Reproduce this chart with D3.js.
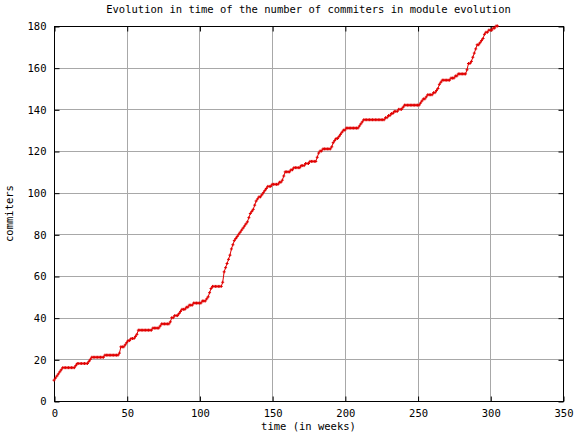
<!DOCTYPE html>
<html>
<head>
<meta charset="utf-8">
<script src="https://cdn.jsdelivr.net/npm/d3@7"></script>
<style>
	body { margin: 0; background: #fff; }
	text { font-family: 'DejaVu Sans Mono', monospace; font-size: 10.5px; fill: #000; }
</style>
</head>
<body>
<script>
// commiters per week (weeks 0..305)
const commiters = [
	10, 11, 12, 13, 14, 15, 16, 16, 16, 16,
	16, 16, 16, 16, 16, 17, 18, 18, 18, 18,
	18, 18, 18, 18, 19, 20, 21, 21, 21, 21,
	21, 21, 21, 21, 21, 22, 22, 22, 22, 22,
	22, 22, 22, 22, 22, 23, 26, 26, 26, 27,
	28, 29, 29, 30, 30, 30, 31, 32, 34, 34,
	34, 34, 34, 34, 34, 34, 34, 34, 35, 35,
	35, 35, 35, 36, 37, 37, 37, 37, 37, 37,
	38, 40, 40, 41, 41, 41, 42, 43, 44, 44,
	44, 45, 45, 46, 46, 46, 47, 47, 47, 47,
	47, 47, 48, 48, 48, 49, 50, 52, 54, 55,
	55, 55, 55, 55, 55, 55, 57, 62, 64, 66,
	68, 70, 73, 75, 77, 78, 79, 80, 81, 82,
	83, 84, 85, 86, 88, 90, 91, 92, 94, 96,
	97, 98, 98, 99, 100, 101, 102, 103, 103, 103,
	104, 104, 104, 104, 104, 105, 105, 106, 108, 110,
	110, 110, 110, 111, 111, 112, 112, 112, 112, 112,
	113, 113, 113, 114, 114, 114, 115, 115, 115, 115,
	115, 117, 119, 120, 120, 121, 121, 121, 121, 121,
	121, 122, 124, 125, 126, 126, 127, 128, 129, 130,
	130, 131, 131, 131, 131, 131, 131, 131, 131, 131,
	132, 133, 134, 135, 135, 135, 135, 135, 135, 135,
	135, 135, 135, 135, 135, 135, 135, 135, 136, 136,
	137, 137, 138, 138, 139, 139, 139, 140, 140, 140,
	141, 142, 142, 142, 142, 142, 142, 142, 142, 142,
	142, 142, 143, 144, 145, 145, 146, 147, 147, 147,
	147, 148, 148, 149, 150, 152, 153, 154, 154, 154,
	154, 154, 154, 155, 155, 155, 156, 156, 157, 157,
	157, 157, 157, 157, 159, 162, 162, 163, 165, 167,
	169, 171, 171, 172, 173, 174, 176, 177, 177, 178,
	178, 178, 179, 179, 180, 180
];
const weeks = commiters.map((d, i) => i);

const xTicks = [0, 50, 100, 150, 200, 250, 300, 350];
const yTicks = [0, 20, 40, 60, 80, 100, 120, 140, 160, 180];

const title = 'Evolution in time of the number of commiters in module evolution';
const xLabel = 'time (in weeks)';
const yLabel = 'commiters';

const w = 575;
const h = 436;
const pLeft = 54, pRight = 563, pTop = 26, pBottom = 401;

const svg = d3.select('body').append('svg')
	.attr('width', w)
	.attr('height', h);

const x = d3.scaleLinear().domain([0, 350]).range([pLeft, pRight]);
const y = d3.scaleLinear().domain([0, 180]).range([pBottom, pTop]);

// grid
const grid = svg.append('g').attr('stroke', '#a8a8a8').attr('stroke-width', 1);
grid.selectAll('.gx').data(xTicks.slice(1, -1)).enter().append('line')
	.attr('x1', d => Math.round(x(d)) + 0.5).attr('x2', d => Math.round(x(d)) + 0.5)
	.attr('y1', pTop).attr('y2', pBottom);
grid.selectAll('.gy').data(yTicks.slice(1, -1)).enter().append('line')
	.attr('y1', d => Math.round(y(d)) + 0.5).attr('y2', d => Math.round(y(d)) + 0.5)
	.attr('x1', pLeft).attr('x2', pRight);

// axes with inward ticks, mirrored
const fmt = d3.format('d');
const axB = svg.append('g').attr('transform', `translate(0.5,${pBottom + 0.5})`)
	.call(d3.axisBottom(x).tickValues(xTicks).tickSize(-5).tickPadding(8).tickFormat(fmt));
const axT = svg.append('g').attr('transform', `translate(0.5,${pTop + 0.5})`)
	.call(d3.axisTop(x).tickValues(xTicks).tickSize(-5).tickFormat(''));
const axL = svg.append('g').attr('transform', `translate(${pLeft + 0.5},0.5)`)
	.call(d3.axisLeft(y).tickValues(yTicks).tickSize(-5).tickPadding(8).tickFormat(fmt));
const axR = svg.append('g').attr('transform', `translate(${pRight + 0.5},0.5)`)
	.call(d3.axisRight(y).tickValues(yTicks).tickSize(-5).tickFormat(''));
[axB, axT, axL, axR].forEach(a => {
	a.select('.domain').remove();
	a.selectAll('line').attr('stroke', '#000');
	a.selectAll('text').attr('font-family', null).attr('font-size', null);
});

// border
svg.append('rect')
	.attr('x', pLeft + 0.5).attr('y', pTop + 0.5)
	.attr('width', pRight - pLeft).attr('height', pBottom - pTop)
	.attr('fill', 'none').attr('stroke', '#000');

// line
const line = d3.line().x((d, i) => x(weeks[i])).y(d => y(d));
svg.append('path')
	.datum(commiters)
	.attr('d', line)
	.attr('fill', 'none')
	.attr('stroke', '#e00000')
	.attr('stroke-width', 1);

// + markers
svg.append('g').attr('stroke', '#e00000').attr('stroke-width', 1)
	.selectAll('path').data(commiters).enter().append('path')
	.attr('d', (d, i) => {
		const px = x(weeks[i]), py = y(d);
		return `M${px - 1.5},${py}H${px + 1.5}M${px},${py - 1.5}V${py + 1.5}`;
	});

// labels
svg.append('text').attr('x', (pLeft + pRight) / 2).attr('y', 13)
	.attr('text-anchor', 'middle').text(title);
svg.append('text').attr('x', (pLeft + pRight) / 2).attr('y', 430)
	.attr('text-anchor', 'middle').text(xLabel);
svg.append('text').attr('transform', `translate(13,${(pTop + pBottom) / 2}) rotate(-90)`)
	.attr('text-anchor', 'middle').text(yLabel);
</script>
</body>
</html>
